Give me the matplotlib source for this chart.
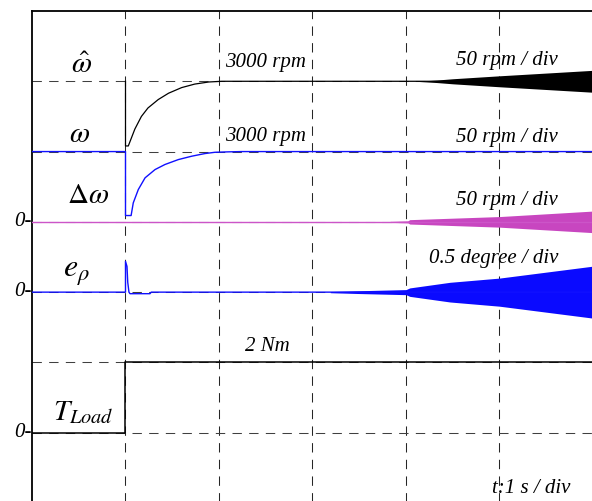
import matplotlib
matplotlib.use("Agg")
import matplotlib.pyplot as plt

plt.rcParams["font.family"] = ["Liberation Serif", "DejaVu Serif"]
plt.rcParams["mathtext.fontset"] = "stix"

# estimated speed (rpm) after the load step
t_hat = [1.0, 1.0, 1.03, 1.10, 1.17, 1.24, 1.35, 1.46, 1.60, 1.74, 1.89, 2.03, 6.0]
w_hat = [3000, 2954, 2954, 2966, 2975, 2981, 2987, 2991.5, 2995.5, 2998, 2999.5, 3000, 3000]
t_hat_env = [4.1, 4.33, 4.5, 5.0, 6.0]
hat_env = [0.0, 0.9, 1.8, 3.9, 7.8]

# measured speed (rpm)
t_w = [0, 1.0, 1.0, 1.06, 1.083, 1.137, 1.209, 1.316, 1.422, 1.565, 1.708, 1.85, 1.957, 2.10, 2.24, 6.0]
w = [3000, 3000, 2954.5, 2954.5, 2963.5, 2973, 2981.3, 2987.2, 2990.8, 2994.3, 2996.7, 2998.6, 2999.5, 2999.8, 3000, 3000]

# speed error (rpm)
t_dw = [0, 6.0]
dw = [0, 0]
t_dw_env = [3.83, 4.02, 4.04, 5.0, 6.0]
dw_env = [0.36, 0.71, 1.56, 3.77, 7.68]

# position error (degree)
t_ep = [0, 1.0, 1.0, 1.016, 1.024, 1.037, 1.048, 1.262, 1.275, 6.0]
ep = [0, 0, 0.219, 0.183, 0.07, 0.0, -0.011, -0.011, 0, 0]
t_ep_env = [3.19, 3.5, 4.0, 4.04, 4.47, 5.0, 6.0]
ep_env = [0.004, 0.01, 0.018, 0.03, 0.07, 0.1, 0.185]

# load torque (Nm)
t_tl = [0, 1.0, 1.0, 6.0]
tl = [0, 0, 2, 2]

W, H = 592, 502
fig = plt.figure(figsize=(W / 100, H / 100), dpi=100)
rect = [32 / W, 1 - 504 / H, (593 - 32) / W, (504 - 12) / H]

ax = fig.add_axes(rect)
ax.set_xlim(0, 6)
ax.set_ylim(0, 7)
ax.set_xticks([])
ax.set_yticks([])
for side in ["right", "bottom"]:
    ax.spines[side].set_visible(False)
for side in ["left", "top"]:
    ax.spines[side].set_linewidth(1.3)
    ax.spines[side].set_color("black")

# scope grid, 6 x 7 divisions
for k in range(1, 6):
    ax.axvline(k, color="0.15", lw=0.75, dashes=(9, 7), zorder=1)
for k in range(1, 7):
    ax.axhline(k, color="0.25", lw=0.75, dashes=(9, 7), zorder=1)


def trace_axes(zero_div, per_div, ref):
    tax = fig.add_axes(rect, sharex=ax)
    tax.set_ylim(ref - zero_div * per_div, ref + (7 - zero_div) * per_div)
    tax.axis("off")
    tax.patch.set_visible(False)
    return tax


a1 = trace_axes(6, 50, 3000)
a1.plot(t_hat, w_hat, color="black", lw=0.9)
a1.fill_between(t_hat_env, [3000 - a for a in hat_env], [3000 + a for a in hat_env],
                color="black", lw=0)

a2 = trace_axes(5, 50, 3000)
a2.plot(t_w, w, color="#1010ff", lw=1.0)

a3 = trace_axes(4, 50, 0)
a3.plot(t_dw, dw, color="#cc55c8", lw=1.0)
a3.fill_between(t_dw_env, [-a for a in dw_env], dw_env, color="#c846c0", lw=0)

a4 = trace_axes(3, 0.5, 0)
a4.plot(t_ep, ep, color="#1010ff", lw=1.0)
a4.fill_between(t_ep_env, [-a for a in ep_env], ep_env, color="#0a0aff", lw=0)

a5 = trace_axes(1, 2, 0)
a5.plot(t_tl, tl, color="black", lw=1.1)

# labels
fs = 15
txt = dict(fontsize=fs, style="italic", va="baseline")
ax.text(2.06, 6.22, "3000 rpm", ha="left", **txt)
ax.text(2.06, 5.16, "3000 rpm", ha="left", **txt)
ax.text(5.626, 6.25, "50 rpm / div", ha="right", **txt)
ax.text(5.626, 5.155, "50 rpm / div", ha="right", **txt)
ax.text(5.626, 4.255, "50 rpm / div", ha="right", **txt)
ax.text(5.626, 3.43, "0.5 degree / div", ha="right", **txt)
ax.text(2.28, 2.18, "2 Nm", ha="left", **txt)
ax.text(5.754, 0.158, "t:1 s / div", ha="right", **txt)

for y0 in [4, 3, 1]:
    ax.text(-0.005, y0 + 0.02, "0-", ha="right", va="center", fontsize=fs, style="italic")

ms = 21
ax.text(0.535, 6.13, r"$\hat{\omega}$", ha="center", va="baseline", fontsize=ms)
ax.text(0.513, 5.15, r"$\omega$", ha="center", va="baseline", fontsize=ms)
ax.text(0.6, 4.28, r"$\Delta\omega$", ha="center", va="baseline", fontsize=ms)
ax.text(0.33, 3.23, r"$e_{\rho}$", ha="left", va="baseline", fontsize=23)
ax.text(0.225, 1.196, r"$T_{Load}$", ha="left", va="baseline", fontsize=ms)

fig.savefig("out.png", dpi=100)
